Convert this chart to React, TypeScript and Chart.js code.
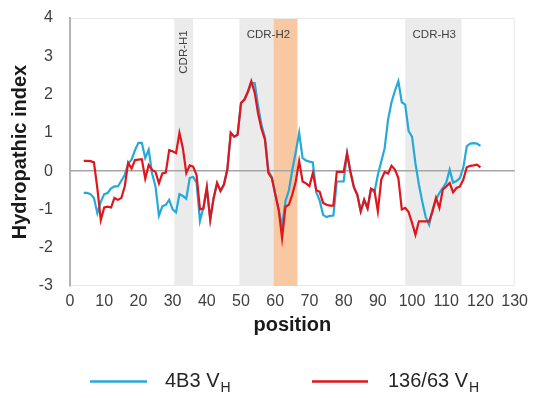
import React, { useEffect, useRef } from "react";
import { Chart, registerables } from "chart.js";

Chart.register(...registerables);

// Residue positions start at 4 and run one per value
const firstPosition = 4;

// Hydropathic index, 4B3 VH (positions 4..120)
const series4B3 = [
  -0.57, -0.57, -0.6, -0.7, -1.1, -0.8, -0.6, -0.57, -0.45, -0.4,
  -0.4, -0.25, -0.1, 0.2, 0.3, 0.55, 0.74, 0.74, 0.34, 0.56,
  -0.06, -0.4, -1.16, -0.92, -0.88, -0.75, -1.0, -1.08, -0.6, -0.65,
  -0.72, -0.18, -0.15, -0.3, -1.3, -0.95, -0.45, -1.25, -0.7, -0.31,
  -0.52, -0.35, 0.04, 1.0, 0.9, 0.95, 1.78, 1.87, 2.05, 2.3,
  2.3, 1.7, 1.2, 0.88, 0.0, -0.15, -0.6, -1.0, -1.45, -0.78,
  -0.5, 0.03, 0.5, 1.0, 0.34, 0.28, 0.25, 0.23, -0.55, -0.77,
  -1.14, -1.2, -1.17, -1.16, -0.27, -0.27, -0.27, 0.45, -0.02, -0.42,
  -0.62, -1.05, -0.75, -0.97, -0.46, -0.55, -0.1, 0.25, 0.6, 1.35,
  1.8, 2.1, 2.35, 1.8, 1.74, 1.05, 0.9, 0.2, -0.35, -0.8,
  -1.2, -1.4, -1.0, -0.74, -0.57, -0.44, -0.3, 0.04, -0.3, -0.26,
  -0.18, 0.1, 0.65, 0.72, 0.73, 0.72, 0.66,
];

// Hydropathic index, 136/63 VH (positions 4..120)
const series13663 = [
  0.27, 0.27, 0.26, 0.23, -0.45, -1.28, -0.95, -0.93, -0.95, -0.7,
  -0.75, -0.7, -0.4, 0.22, 0.07, 0.29, 0.3, 0.31, -0.2, 0.16,
  0.03, -0.02, -0.32, -0.06, -0.04, 0.55, 0.52, 0.47, 1.0, 0.6,
  -0.05, 0.15, 0.12, -0.1, -1.0, -0.98, -0.42, -1.27, -0.7, -0.31,
  -0.52, -0.35, 0.04, 1.0, 0.9, 0.95, 1.78, 1.87, 2.08, 2.35,
  2.05, 1.5, 1.1, 0.82, -0.05, -0.18, -0.6, -1.0, -1.75, -0.93,
  -0.88, -0.61, -0.27, 0.26, -0.27, -0.32, -0.39, -0.05, -0.5, -0.54,
  -0.83, -0.88, -0.9, -0.9, -0.02, -0.02, -0.02, 0.47, -0.02, -0.42,
  -0.62, -1.05, -0.75, -0.97, -0.46, -0.5, -1.05, -0.22, -0.02, -0.06,
  0.14, 0.04, -0.18, -1.0, -0.96, -1.07, -1.35, -1.66, -1.31, -1.31,
  -1.31, -1.31, -1.05, -0.7, -0.96, -0.48, -0.4, -0.31, -0.55, -0.44,
  -0.4, -0.22, 0.1, 0.14, 0.15, 0.17, 0.1,
];

// CDR regions (position ranges) and labels
const cdrNames = ["CDR-H1", "CDR-H2", "CDR-H3"];
const cdrStart = [30.5, 49.5, 98];
const cdrEnd = [36, 59.5, 114.5];
const cdrLabelAt = [33.3, 58, 106.5];
const highlightStart = [59.5];
const highlightEnd = [66.5];

// Axis ranges
const xMin = 0;
const xMax = 130;
const xStep = 10;
const yMin = -3;
const yMax = 4;
const yStep = 1;

const seriesNames = ["4B3 V", "136/63 V"];
const seriesSub = ["H", "H"];

const BLUE = "#26a9d8";
const RED = "#e1151c";
const FONT = "'Liberation Sans', Arial, sans-serif";

const toPoints = (vals: number[]) =>
  vals.map((v, i) => ({ x: firstPosition + i, y: v }));

const decorPlugin = {
  id: "decor",
  beforeDraw(chart: any) {
    const { ctx, chartArea, scales } = chart;
    const xs = scales.x;
    const { top, bottom, left, right } = chartArea;
    ctx.save();
    ctx.fillStyle = "#ffffff";
    ctx.fillRect(0, 0, chart.width, chart.height);
    // frame
    ctx.strokeStyle = "#e8e8e8";
    ctx.lineWidth = 1;
    ctx.strokeRect(left + 0.5, top + 0.5, right - left - 1, bottom - top - 1);
    // gray CDR bands
    ctx.fillStyle = "#ebebeb";
    cdrStart.forEach((s, i) => {
      const x0 = xs.getPixelForValue(s);
      const x1 = xs.getPixelForValue(cdrEnd[i]);
      ctx.fillRect(x0, top + 1, x1 - x0, bottom - top - 1);
    });
    ctx.fillStyle = "#f7c8a2";
    highlightStart.forEach((s, i) => {
      const x0 = xs.getPixelForValue(s);
      const x1 = xs.getPixelForValue(highlightEnd[i]);
      ctx.fillRect(x0, top + 1, x1 - x0, bottom - top - 1);
    });
    // labels
    ctx.fillStyle = "#404040";
    ctx.font = `11.5px ${FONT}`;
    ctx.textAlign = "center";
    ctx.textBaseline = "middle";
    cdrNames.forEach((name, i) => {
      const x = xs.getPixelForValue(cdrLabelAt[i]);
      if (i === 0) {
        ctx.save();
        ctx.translate(x, top + 34);
        ctx.rotate(-Math.PI / 2);
        ctx.fillText(name, 0, 0);
        ctx.restore();
      } else {
        ctx.fillText(name, x, top + 17);
      }
    });
    ctx.restore();
  },
  afterDraw(chart: any) {
    const { ctx } = chart;
    const items = [
      { color: BLUE, x0: 90, x1: 147, tx: 165 },
      { color: RED, x0: 312, x1: 368, tx: 388 },
    ];
    ctx.save();
    items.forEach((it, i) => {
      ctx.strokeStyle = it.color;
      ctx.lineWidth = 2.5;
      ctx.beginPath();
      ctx.moveTo(it.x0, 381.5);
      ctx.lineTo(it.x1, 381.5);
      ctx.stroke();
      ctx.fillStyle = "#262626";
      ctx.textAlign = "left";
      ctx.textBaseline = "alphabetic";
      ctx.font = `20px ${FONT}`;
      ctx.fillText(seriesNames[i], it.tx, 387);
      const w = ctx.measureText(seriesNames[i]).width;
      ctx.font = `14px ${FONT}`;
      ctx.fillText(seriesSub[i], it.tx + w + 1, 392);
    });
    ctx.restore();
  },
};

export default function App() {
  const ref = useRef<HTMLCanvasElement | null>(null);

  useEffect(() => {
    if (!ref.current) return;
    const chart = new Chart(ref.current, {
      type: "line",
      data: {
        datasets: [
          {
            label: "136/63 VH",
            data: toPoints(series13663),
            borderColor: RED,
            backgroundColor: RED,
            borderWidth: 2.2,
            pointRadius: 0,
            tension: 0,
          },
          {
            label: "4B3 VH",
            data: toPoints(series4B3),
            borderColor: BLUE,
            backgroundColor: BLUE,
            borderWidth: 2.2,
            pointRadius: 0,
            tension: 0,
          },
        ],
      },
      options: {
        responsive: false,
        animation: false,
        devicePixelRatio: 1,
        layout: { padding: { left: 0, right: 16, top: 18, bottom: 61 } },
        plugins: {
          legend: { display: false },
          tooltip: { enabled: false },
        },
        scales: {
          x: {
            type: "linear",
            min: xMin,
            max: xMax,
            ticks: {
              stepSize: xStep,
              padding: 6,
              color: "#404040",
              font: { family: FONT, size: 16 },
              maxRotation: 0,
            },
            grid: { display: false, drawTicks: false },
            border: { display: false },
            title: {
              display: true,
              text: "position",
              color: "#1a1a1a",
              font: { family: FONT, size: 20, weight: "bold" },
              padding: { top: 0, bottom: 0 },
            },
            afterFit: (s: any) => {
              s.height = 51;
            },
          },
          y: {
            min: yMin,
            max: yMax,
            ticks: {
              stepSize: yStep,
              padding: 17,
              color: "#404040",
              font: { family: FONT, size: 16 },
            },
            grid: {
              drawTicks: false,
              color: (c: any) => (c.tick && c.tick.value === 0 ? "#a6a6a6" : "rgba(0,0,0,0)"),
              lineWidth: 1.5,
            },
            border: { display: true, color: "#b3b3b3", width: 2 },
            title: {
              display: true,
              text: "Hydropathic index",
              color: "#1a1a1a",
              font: { family: FONT, size: 20, weight: "bold" },
              padding: { top: 8, bottom: 0 },
            },
            afterFit: (s: any) => {
              s.width = 70;
              s.paddingTop = 0;
              s.paddingBottom = 0;
            },
          },
        },
      },
      plugins: [decorPlugin],
    } as any);
    return () => chart.destroy();
  }, []);

  return (
    <div style={{ position: "fixed", left: 0, top: 0, width: 534, height: 398, background: "#fff" }}>
      <canvas ref={ref} width={534} height={398} />
    </div>
  );
}
